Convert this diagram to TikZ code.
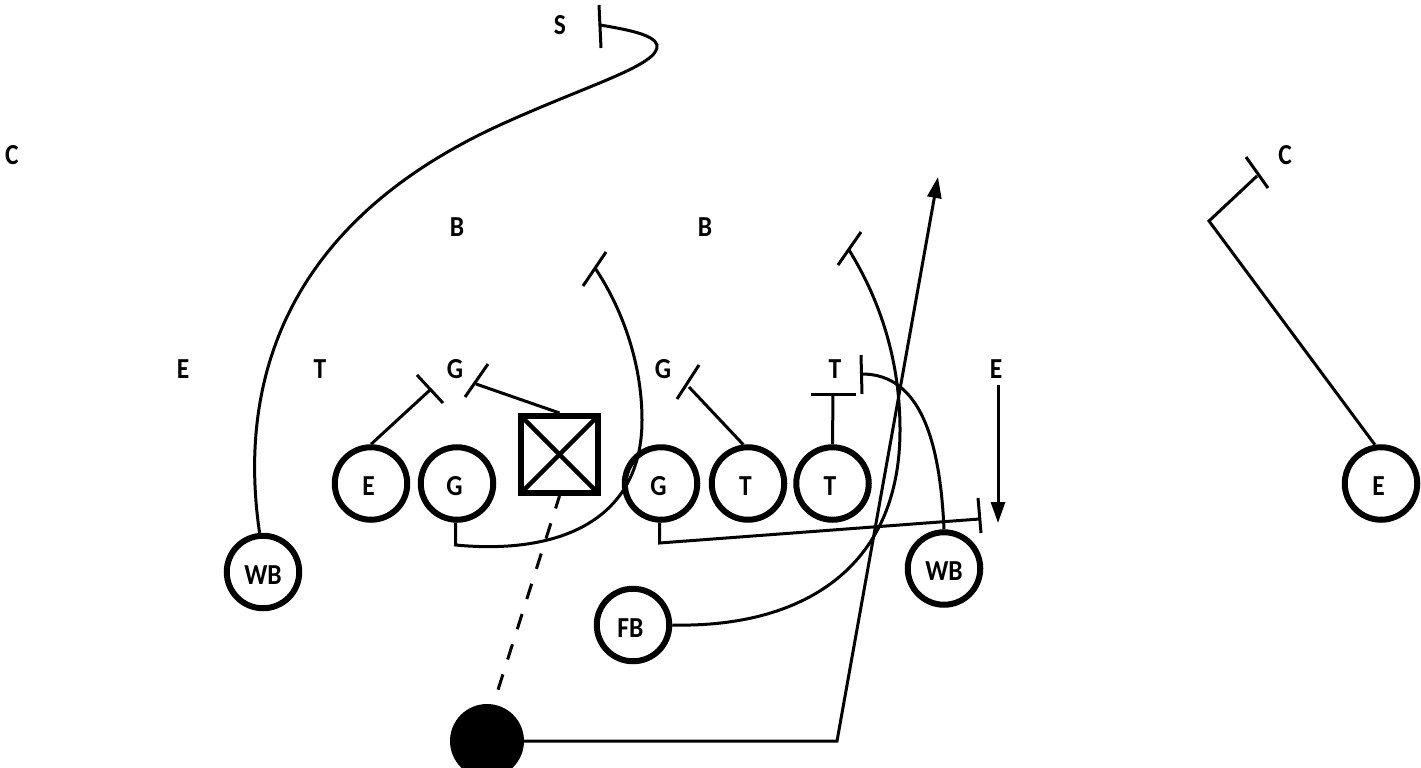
\documentclass[tikz,border=0pt]{standalone}
\usepackage{fontspec}
\setmainfont[FakeStretch=0.88]{Carlito}
\usetikzlibrary{arrows.meta}
\newcommand{\shl}[1]{\kern-5pt #1}
\tikzset{
  x=1pt,y=-1pt,
  lbl/.style={font=\fontsize{29}{29}\selectfont\bfseries,inner sep=0pt},
  player/.style={circle,draw=black,line width=6pt,minimum size=72.5pt,inner sep=0pt,font=\fontsize{29}{29}\selectfont\bfseries,text height=24pt,text depth=0pt},
  ball/.style={circle,fill=black,draw=none,minimum size=74pt,inner sep=0pt},
  center/.style={rectangle,draw=black,line width=6pt,minimum size=77pt,inner sep=0pt},
  route/.style={line width=3pt,line join=miter},
  bar/.style={line width=3pt},
  tipped/.style={route,-{Triangle[length=21pt,width=14pt]}},
}
\begin{document}
\begin{tikzpicture}
\clip (0,0) rectangle (1421,768);
\fill[white] (0,0) rectangle (1421,768);
% defense labels
\node[lbl] (ls) at (560,25) {S};
\node[lbl] (lc1) at (12,155) {C};
\node[lbl] (lc2) at (1285,155) {C};
\node[lbl] (lb1) at (457,227) {B};
\node[lbl] (lb2) at (705,227) {B};
\node[lbl] (le1) at (183,369) {E};
\node[lbl] (lt1) at (320,369) {T};
\node[lbl] (lg1) at (455,369) {G};
\node[lbl] (lg2) at (663,369) {G};
\node[lbl] (lt2) at (835,369) {T};
\node[lbl] (le2) at (996,369) {E};
% offense
\node[player] (e1) at (371,483.5) {\shl{E}};
\node[player] (g1) at (457,483.5) {\shl{G}};
\node[center] (c) at (559.5,454.5) {};
\node[player] (g2) at (661,483.5) {\shl{G}};
\node[player] (t1) at (748,483.5) {\shl{T}};
\node[player] (t2) at (832.5,483.5) {\shl{T}};
\node[player] (wbl) at (263,572) {WB};
\node[player] (wbr) at (944,568.5) {WB};
\node[player] (fb) at (633,625) {\shl{FB}};
\node[player] (e2) at (1381,483.5) {\shl{E}};
\node[ball] (qb) at (487,741) {};
% X in the center square
\draw[line width=4.5pt] ([shift={(3,3)}]c.north west) -- ([shift={(-3,-3)}]c.south east);
\draw[line width=4.5pt] ([shift={(-3,3)}]c.north east) -- ([shift={(3,-3)}]c.south west);
% free ends
\coordinate (sA) at (599,5); \coordinate (sB) at (601,48); \coordinate (sE) at (600,25);
\coordinate (eA) at (417,375); \coordinate (eB) at (443,403); \coordinate (eE) at (430,390);
\coordinate (cA) at (465,397); \coordinate (cB) at (488,364); \coordinate (cE) at (476,384);
\coordinate (gA) at (583,286); \coordinate (gB) at (606,252); \coordinate (gE) at (595,268);
\coordinate (g1k) at (455.5,545);
\coordinate (g2k) at (659.5,543);
\coordinate (hA) at (978,498); \coordinate (hB) at (981,533); \coordinate (hE) at (979.5,519);
\coordinate (iA) at (677,399); \coordinate (iB) at (699,365); \coordinate (iE) at (689,387);
\coordinate (jA) at (811,394); \coordinate (jB) at (856,394); \coordinate (jE) at (833,394);
\coordinate (kA) at (861,355); \coordinate (kB) at (862,394); \coordinate (kE) at (862,374);
\coordinate (fA) at (838,265); \coordinate (fB) at (861,232); \coordinate (fE) at (849,250);
\coordinate (mA) at (1246,157); \coordinate (mB) at (1268,188); \coordinate (mE) at (1257,176);
\coordinate (mk) at (1209,221);
\coordinate (qk) at (837,741); \coordinate (qE) at (938,177);
\coordinate (aS) at (998,385); \coordinate (aE) at (998,523);
\coordinate (dE) at (497,693);
% blocks
\foreach \p/\q in {sA/sB,eA/eB,cA/cB,gA/gB,hA/hB,iA/iB,jA/jB,kA/kB,fA/fB,mA/mB}
  \draw[bar] (\p) -- (\q);
\draw[route] (wbl.95) .. controls (240,400) and (270,230) .. (500,125)
   .. controls (590,84) and (660,65) .. (657,45)
   .. controls (654,35) and (630,30) .. (sE);
\draw[route] (e1.north) -- (eE);
\draw[route] (c.north) -- (cE);
\draw[route] (g1.268) -- (g1k) .. controls (560,555) and (642,520) .. (642,420)
   .. controls (642,360) and (620,305) .. (gE);
\draw[route] (g2.268) -- (g2k) -- (hE);
\draw[route] (t1.97) -- (iE);
\draw[route] (t2.north) -- (jE);
\draw[route] (wbr.north) .. controls (940,440) and (920,374) .. (kE);
\draw[route] (fb.east) .. controls (800,628) and (900,570) .. (900,430)
   .. controls (900,360) and (880,300) .. (fE);
\draw[route] (e2.99) -- (mk) -- (mE);
\draw[tipped] (qb.east) -- (qk) -- (qE);
\draw[tipped] (aS) -- (aE);
\draw[route,dash pattern=on 16pt off 15.7pt,dash phase=3pt] (c.south) -- (dE);
\end{tikzpicture}
\end{document}
